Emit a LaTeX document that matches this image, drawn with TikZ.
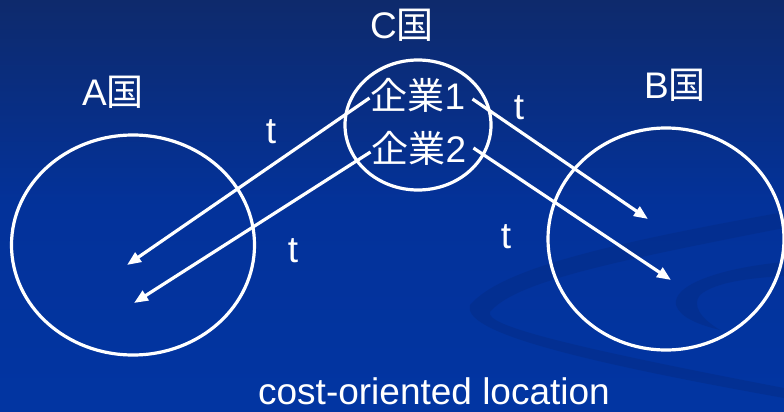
\documentclass[tikz,border=0pt]{standalone}
\usepackage{fontspec}
\setmainfont{Liberation Sans}
\newfontfamily\cjk{Noto Sans CJK JP}
\usetikzlibrary{shapes.geometric,arrows.meta}
\definecolor{bgtop}{HTML}{0E2A6C}
\definecolor{bgmid}{HTML}{03329A}
\definecolor{bgbot}{HTML}{0235A2}
\definecolor{swirl}{HTML}{042C86}
\begin{document}
\begin{tikzpicture}[x=1pt,y=-1pt,
  country/.style={draw=white,line width=3.2pt,ellipse,inner sep=0pt},
  lbl/.style={text=white,font=\fontsize{37}{40}\selectfont,inner sep=1pt},
  flow/.style={draw=white,line width=3.2pt,-{Triangle[length=14pt,width=11pt]}}]
\useasboundingbox (0,0) rectangle (784,412);
% backdrop
\shade[top color=bgtop,bottom color=bgbot,middle color=bgmid] (0,0) rectangle (784,412);
% faint swirl in the lower right
\begin{scope}
\clip (0,0) rectangle (784,412);
\fill[swirl,opacity=0.5] (470,305) .. controls (500,270) and (600,245) .. (784,212)
  -- (784,228) .. controls (610,262) and (515,282) .. (490,312)
  .. controls (485,325) and (560,345) .. (784,388) -- (784,398)
  .. controls (560,358) and (462,330) .. (470,305) -- cycle;
\fill[swirl,opacity=0.5] (784,262) .. controls (720,268) and (672,285) .. (676,305)
  .. controls (680,318) and (700,325) .. (720,330)
  .. controls (700,318) and (692,305) .. (700,295)
  .. controls (715,282) and (750,278) .. (784,276) -- cycle;
\end{scope}
% countries
\node[country,minimum width=243pt,minimum height=220pt] (A) at (133,245) {};
\node[country,minimum width=236pt,minimum height=222pt] (B) at (666,239) {};
\node[country,minimum width=146pt,minimum height=130pt] (C) at (418,125) {};
\node[lbl] (Alab) at (113,92) {A{\cjk 国}};
\node[lbl] (Blab) at (675,85) {B{\cjk 国}};
\node[lbl] (Clab) at (402,25) {C{\cjk 国}};
% firms
\node[lbl] (f1) at (418,95) {{\cjk 企業}1};
\node[lbl] (f2) at (419,148) {{\cjk 企業}2};
% destinations
\coordinate (a1) at (127,265);
\coordinate (a2) at (134,303);
\coordinate (b1) at (648,219);
\coordinate (b2) at (671,280);
\draw[flow] ([yshift=-3pt]f1.west) -- (a1);
\draw[flow] ([yshift=-4pt]f2.west) -- (a2);
\draw[flow] ([xshift=6pt,yshift=-4pt]f1.east) -- (b1);
\draw[flow] ([xshift=6pt]f2.east) -- (b2);
% transport cost labels
\node[lbl] (t1) at (271,132) {t};
\node[lbl] (t2) at (519,108) {t};
\node[lbl] (t3) at (293,251) {t};
\node[lbl] (t4) at (506,237) {t};
\node[lbl] (cap) at (434,391) {cost-oriented location};
\end{tikzpicture}
\end{document}
